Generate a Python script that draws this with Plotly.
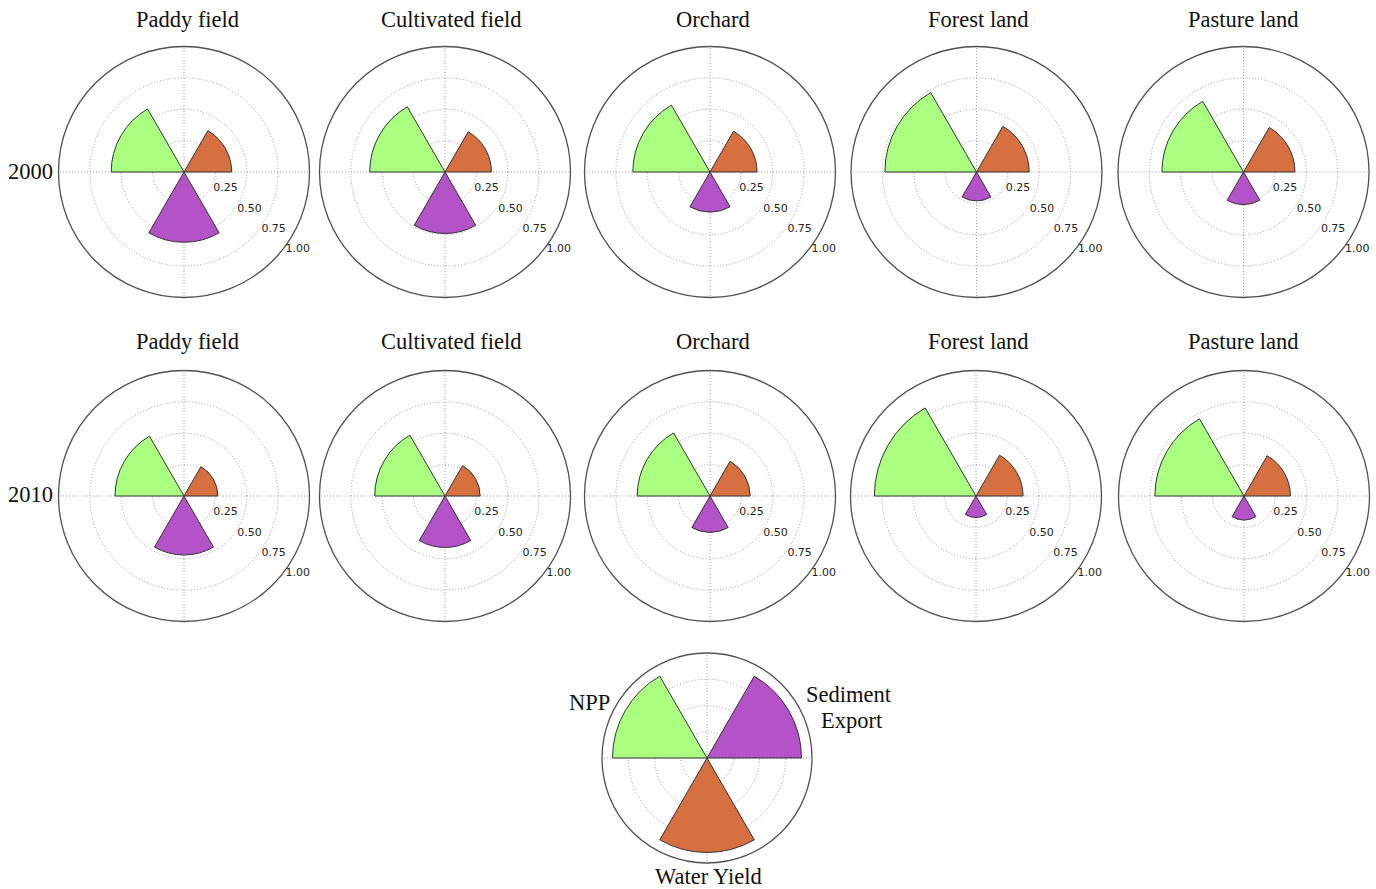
import plotly.graph_objects as go

W, H = 1376, 889

land_types = ["Paddy field", "Cultivated field", "Orchard", "Forest land", "Pasture land"]
years = ["2000", "2010"]
services = ["NPP", "Water Yield", "Sediment Export"]

npp_2000 = [0.58, 0.60, 0.615, 0.73, 0.65]
wy_2000 = [0.38, 0.37, 0.375, 0.42, 0.41]
se_2000 = [0.56, 0.49, 0.32, 0.23, 0.26]

npp_2010 = [0.55, 0.56, 0.58, 0.81, 0.71]
wy_2010 = [0.27, 0.28, 0.32, 0.375, 0.37]
se_2010 = [0.47, 0.41, 0.29, 0.17, 0.19]

legend_values = [0.9, 0.9, 0.9]  # NPP, Sediment Export, Water Yield

radial_ticks = [0.25, 0.50, 0.75, 1.00]
radial_ticktext = ["0.25", "0.50", "0.75", "1.00"]

C_NPP = "#AAFF80"
C_WY = "#D67040"
C_SE = "#B452C8"

# layout geometry (pixels)
row_cy = [172, 496]
col_cx = [[184, 445, 710, 976.5, 1243.5], [184, 445, 710, 976, 1244]]
R = 125.5
leg_cx, leg_cy, leg_r = 707, 758, 105

title_x = [187, 452, 713, 978, 1243]
title_y = [20, 341.5]

GRID = "#a0a0a0"
GRID_DASH = "1px,2px"

fig = go.Figure()

def domain(cx, cy, r):
    return dict(x=[(cx - r) / W, (cx + r) / W], y=[1 - (cy + r) / H, 1 - (cy - r) / H])

def polar_layout(cx, cy, r, ticklabels=True):
    return dict(
        domain=domain(cx, cy, r),
        bgcolor="white",
        angularaxis=dict(
            tickvals=[0, 90, 180, 270], showticklabels=False, ticks="",
            gridcolor=GRID, griddash=GRID_DASH, gridwidth=1,
            showline=True, linecolor="#505050", linewidth=1.3,
            rotation=0, direction="counterclockwise", layer="above traces",
        ),
        radialaxis=dict(
            range=[0, 1.0], tickvals=radial_ticks, ticktext=radial_ticktext,
            showticklabels=ticklabels, ticks="", showline=False,
            angle=-40, side="counterclockwise", tickangle=-40,
            tickfont=dict(family="DejaVu Sans", size=11, color="#222222"),
            gridcolor=GRID, griddash=GRID_DASH, gridwidth=1, layer="above traces",
        ),
    )

layout_polars = {}
k = 0
data_by_year = [(npp_2000, wy_2000, se_2000), (npp_2010, wy_2010, se_2010)]
for ri, (npp, wy, se) in enumerate(data_by_year):
    for ci in range(len(land_types)):
        k += 1
        name = "polar" if k == 1 else f"polar{k}"
        layout_polars[name] = polar_layout(col_cx[ri][ci], row_cy[ri], R)
        fig.add_trace(go.Barpolar(
            r=[npp[ci], wy[ci], se[ci]],
            theta=[150, 30, 270],
            width=[60, 60, 60],
            marker=dict(color=[C_NPP, C_WY, C_SE], line=dict(color="#333333", width=1)),
            subplot=name, showlegend=False,
        ))

k += 1
name = f"polar{k}"
layout_polars[name] = polar_layout(leg_cx, leg_cy, leg_r, ticklabels=False)
fig.add_trace(go.Barpolar(
    r=legend_values,
    theta=[150, 30, 270],
    width=[60, 60, 60],
    marker=dict(color=[C_NPP, C_SE, C_WY], line=dict(color="#333333", width=1)),
    subplot=name, showlegend=False,
))

serif = dict(family="Liberation Serif", size=22.5, color="#111111")
ann = []
for ri in range(2):
    for ci, t in enumerate(land_types):
        ann.append(dict(text=t, x=title_x[ci] / W, y=1 - title_y[ri] / H, xref="paper", yref="paper",
                        xanchor="center", yanchor="middle", showarrow=False, font=serif))
ann.append(dict(text=years[0], x=31 / W, y=1 - 171 / H, xref="paper", yref="paper",
                xanchor="center", yanchor="middle", showarrow=False, font=serif))
ann.append(dict(text=years[1], x=31 / W, y=1 - 494 / H, xref="paper", yref="paper",
                xanchor="center", yanchor="middle", showarrow=False, font=serif))
ann.append(dict(text=services[0], x=589 / W, y=1 - 702 / H, xref="paper", yref="paper",
                xanchor="center", yanchor="middle", showarrow=False, font=serif))
ann.append(dict(text="Sediment", x=848.5 / W, y=1 - 694 / H, xref="paper", yref="paper",
                xanchor="center", yanchor="middle", showarrow=False, font=serif))
ann.append(dict(text="Export", x=851.5 / W, y=1 - 720 / H, xref="paper", yref="paper",
                xanchor="center", yanchor="middle", showarrow=False, font=serif))
ann.append(dict(text=services[1], x=708 / W, y=1 - 876 / H, xref="paper", yref="paper",
                xanchor="center", yanchor="middle", showarrow=False, font=serif))

fig.update_layout(
    width=W, height=H,
    margin=dict(l=0, r=0, t=0, b=0),
    paper_bgcolor="white", plot_bgcolor="white",
    annotations=ann,
    **layout_polars,
)

fig.write_html("out.html")
